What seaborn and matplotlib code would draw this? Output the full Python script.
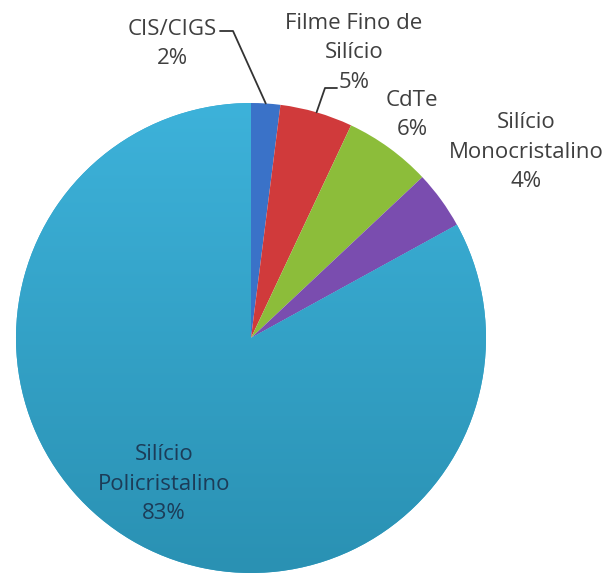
import matplotlib
matplotlib.use("Agg")
import matplotlib.pyplot as plt
import numpy as np
import seaborn as sns
from matplotlib.colors import LinearSegmentedColormap

# data, clockwise from 12 o'clock
labels = ["CIS/CIGS", "Filme Fino de\nSilício", "CdTe", "Silício\nMonocristalino", "Silício\nPolicristalino"]
shares = [2, 5, 6, 4, 83]
colors = ["#3a72c8", "#d03a3b", "#8cbd3a", "#7a4daf", "#31a3cb"]

sns.set_theme(style="white")
plt.rcParams["font.family"] = ["Open Sans", "DejaVu Sans"]

W, H = 611, 574
fig = plt.figure(figsize=(W / 100, H / 100), dpi=100)
ax = fig.add_axes([0, 0, 1, 1])

cx, cy, r = 251, H - 338, 235
wedges, _ = ax.pie(shares, colors=colors, startangle=90, counterclock=False,
                   center=(cx, cy), radius=r, frame=True,
                   wedgeprops={"linewidth": 0})

# vertical gradient on the big slice
big = wedges[-1]
cmap = LinearSegmentedColormap.from_list("pc", ["#3db2da", "#2a91b3"])
grad = np.linspace(0, 1, 256).reshape(-1, 1)
im = ax.imshow(grad, cmap=cmap, extent=(cx - r, cx + r, cy - r, cy + r), origin="upper",
               aspect="auto", zorder=1.5)
im.set_clip_path(big)

ax.set_xlim(0, W)
ax.set_ylim(0, H)
ax.set_aspect("auto")
ax.axis("off")

# mid-angle point on the rim for each slice
bounds = 90 - np.cumsum([0] + shares) * 3.6
mids = np.deg2rad((bounds[:-1] + bounds[1:]) / 2)
rim = [(cx + r * np.cos(a), cy + r * np.sin(a)) for a in mids]

txt = dict(fontsize=16, ha="center", va="center", linespacing=1.55)
label_pos = [(172, H - 44), (354, H - 53), (412, H - 115), (526, H - 152), (164, H - 484)]
for i, (lab, s) in enumerate(zip(labels, shares)):
    c = "#1c3c58" if i == 4 else "#3f3f3f"
    ax.text(*label_pos[i], f"{lab}\n{s}%", color=c, **txt)

# leader lines
x0, y0 = rim[0]
ax.plot([220, 233, x0], [H - 31, H - 31, y0], color="#333333", lw=1.3)
x1, y1 = rim[1]
ax.plot([337, 325, x1], [H - 88, H - 88, y1], color="#333333", lw=1.3)

fig.savefig("out.png", dpi=100, facecolor="white")
